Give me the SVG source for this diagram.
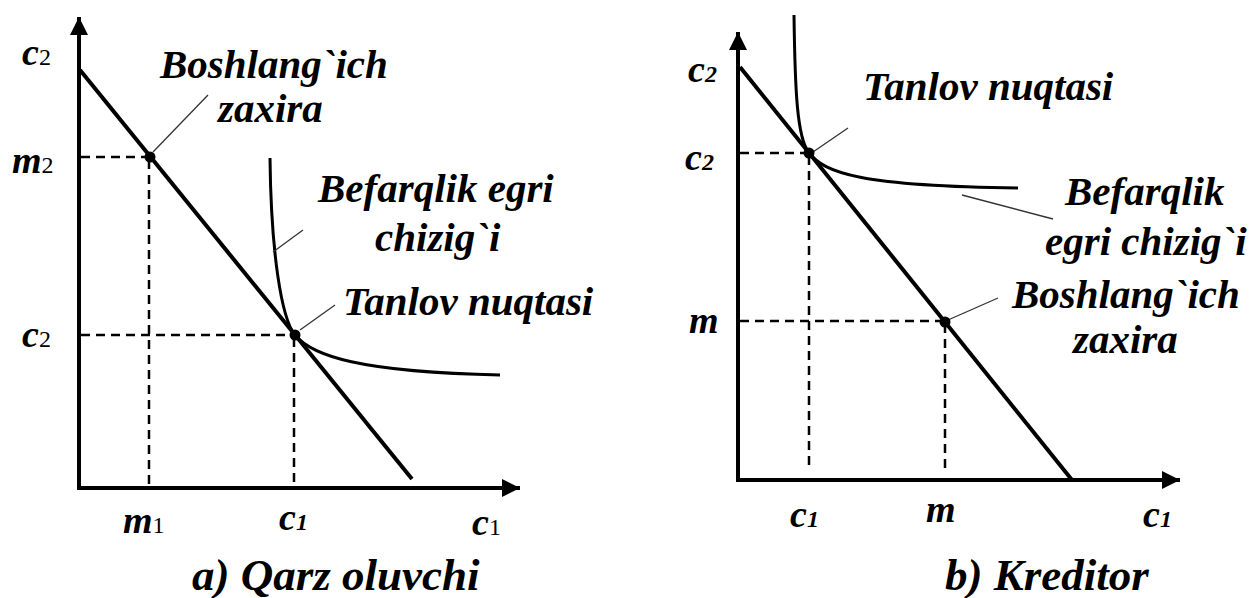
<svg xmlns="http://www.w3.org/2000/svg" width="1252" height="598" viewBox="0 0 1252 598">
<style>
.ax{stroke:#000;stroke-width:4;fill:none}
.bl{stroke:#000;stroke-width:4;fill:none}
.ic{stroke:#000;stroke-width:3;fill:none}
.ds{stroke:#000;stroke-width:2.5;fill:none;stroke-dasharray:9,6}
.ld{stroke:#333;stroke-width:1.3;fill:none}
.pt{fill:#000}
text{font-family:'Liberation Serif','Times New Roman',serif;font-weight:700;font-style:italic;fill:#000}
.t{font-size:41px}
.cap{font-size:45px}
.lb{font-size:38px}
.sub{font-size:24px;font-style:normal;font-weight:400}
.subi{font-size:24px}
</style>
<defs>
<marker id="arr" viewBox="0 0 10 10" refX="10" refY="5" markerWidth="4.5" markerHeight="4.5" orient="auto" markerUnits="strokeWidth">
<path d="M0,0 L10,5 L0,10 z" fill="#000"/>
</marker>
</defs>
<g id="panel-a">
<g id="a-axes">
<path class="ax" d="M79,488 L79,17" marker-end="url(#arr)"/>
<path class="ax" d="M77,488 L520,488" marker-end="url(#arr)"/>
</g>
<g id="a-connectors">
<path class="bl" d="M80,70 L412,479"/>
<path class="ic" d="M270,158 C271,250 281,318 295,335 C312,356 360,372 500,375"/>
<path class="ds" d="M81,157 L150,157 M149,160 L149,486"/>
<path class="ds" d="M81,335 L295,335 M294,338 L294,486"/>
<path class="ld" d="M153,152 L208,95"/>
<path class="ld" d="M273,252 L303,230"/>
<path class="ld" d="M300,330 L335,305"/>
</g>
<g id="a-points">
<circle class="pt" cx="150" cy="157" r="5.5"/>
<circle class="pt" cx="295" cy="335" r="5.5"/>
</g>
<g id="a-labels">
<text class="t" x="160" y="78">Boshlang`ich</text>
<text class="t" x="218" y="122">zaxira</text>
<text class="t" x="318" y="202">Befarqlik egri</text>
<text class="t" x="375" y="251">chizig`i</text>
<text class="t" x="343" y="315">Tanlov nuqtasi</text>
<text class="lb" x="22" y="65">c<tspan class="sub">2</tspan></text>
<text class="lb" x="12" y="173">m<tspan class="sub">2</tspan></text>
<text class="lb" x="22" y="347">c<tspan class="sub">2</tspan></text>
<text class="lb" x="123" y="533">m<tspan class="sub">1</tspan></text>
<text class="lb" x="279" y="530">c<tspan class="subi">1</tspan></text>
<text class="lb" x="472" y="535">c<tspan class="sub">1</tspan></text>
<text class="cap" x="192" y="590">a) Qarz oluvchi</text>
</g>
</g>
<g id="panel-b">
<g id="b-axes">
<path class="ax" d="M738,480 L738,32" marker-end="url(#arr)"/>
<path class="ax" d="M736,480 L1180,480" marker-end="url(#arr)"/>
</g>
<g id="b-connectors">
<path class="bl" d="M740,67 L1072,480"/>
<path class="ic" d="M794,15 C795,90 797,138 809,153 C825,173 860,186 1018,188"/>
<path class="ds" d="M740,153 L809,153 M809,156 L809,470"/>
<path class="ds" d="M740,321 L945,321 M945,324 L945,470"/>
<path class="ld" d="M813,152 L848,128"/>
<path class="ld" d="M962,195 L1053,219"/>
<path class="ld" d="M948,320 L998,298"/>
</g>
<g id="b-points">
<circle class="pt" cx="809" cy="153" r="5.5"/>
<circle class="pt" cx="945" cy="322" r="5.5"/>
</g>
<g id="b-labels">
<text class="t" x="863" y="100">Tanlov nuqtasi</text>
<text class="t" x="1065" y="205">Befarqlik</text>
<text class="t" x="1045" y="255">egri chizig`i</text>
<text class="t" x="1012" y="308">Boshlang`ich</text>
<text class="t" x="1073" y="353">zaxira</text>
<text class="lb" x="688" y="82">c<tspan class="subi">2</tspan></text>
<text class="lb" x="685" y="170">c<tspan class="subi">2</tspan></text>
<text class="lb" x="689" y="333">m</text>
<text class="lb" x="790" y="527">c<tspan class="subi">1</tspan></text>
<text class="lb" x="926" y="522">m</text>
<text class="lb" x="1143" y="527">c<tspan class="subi">1</tspan></text>
<text class="cap" x="945" y="590">b) Kreditor</text>
</g>
</g>
</svg>
